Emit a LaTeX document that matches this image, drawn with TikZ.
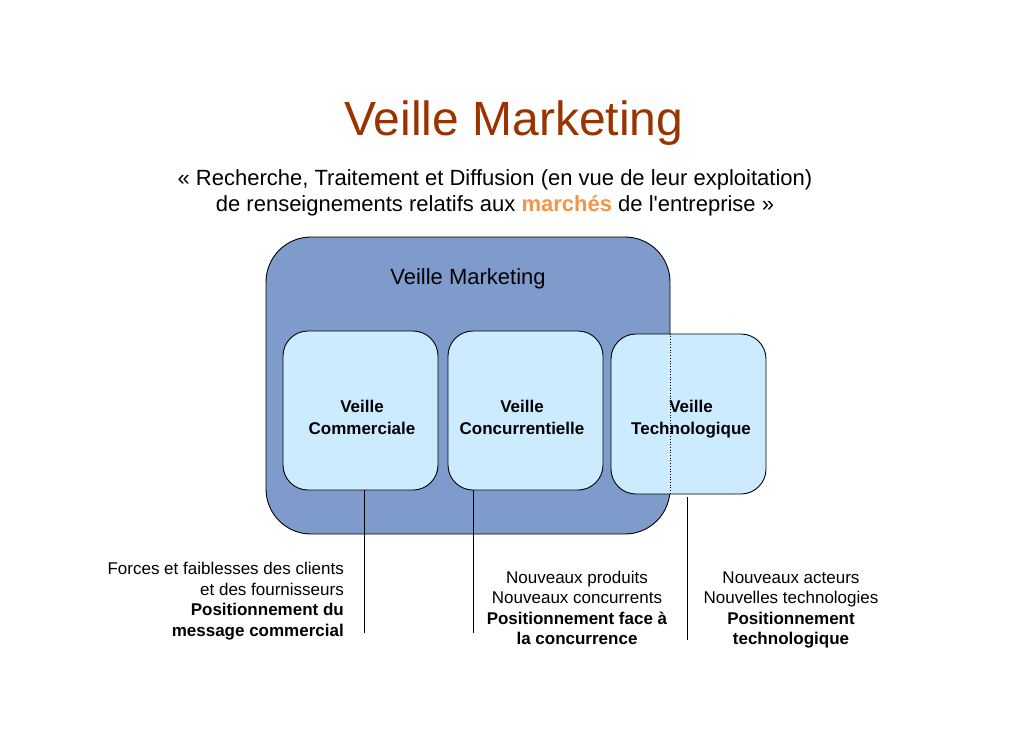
\documentclass[tikz,border=0pt]{standalone}
\usepackage{fontspec}
\setmainfont{Liberation Sans}
\definecolor{titlebrown}{RGB}{153,51,0}
\definecolor{accentorange}{RGB}{240,150,70}
\definecolor{bigblue}{RGB}{127,155,203}
\definecolor{lightblue}{RGB}{204,235,255}
\tikzset{
  bigbox/.style={draw=black, line width=0.9pt, fill=bigblue, rounded corners=45pt, minimum width=404pt, minimum height=297pt, inner sep=0pt},
  subbox/.style={draw=black, line width=0.9pt, fill=lightblue, rounded corners=25pt, minimum width=155pt, minimum height=159pt, inner sep=0pt},
  boxtext/.style={align=center, font=\fontsize{17}{22}\selectfont\bfseries, inner sep=0pt},
  link/.style={draw=black, line width=0.8pt},
  note/.style={font=\fontsize{17}{20.5}\selectfont, inner sep=0pt}
}
\begin{document}
\begin{tikzpicture}[x=1pt,y=-1pt]
\useasboundingbox (0,0) rectangle (1030,728);
\node[text=titlebrown, font=\fontsize{48}{52}\selectfont] (title) at (514,123) {Veille Marketing};
\node[align=center, font=\fontsize{22}{26}\selectfont, inner sep=0pt] (sub) at (495,193)
  {« Recherche, Traitement et Diffusion (en vue de leur exploitation)\\
   de renseignements relatifs aux \textcolor{accentorange}{\bfseries marchés} de l\textquotesingle entreprise »};
\node[bigbox] (big) at (468,385.5) {};
\node[font=\fontsize{22}{24}\selectfont, inner sep=0pt] (bigl) at (468,279) {Veille Marketing};
\node[subbox] (c1) at (360.5,410.5) {};
\node[subbox] (c2) at (525.5,410.5) {};
\node[subbox, minimum height=160pt] (c3) at (688.5,414) {};
\node[boxtext] (c1t) at (362,417.5) {Veille\\Commerciale};
\node[boxtext] (c2t) at (522,417.5) {Veille\\Concurrentielle};
\node[boxtext] (c3t) at (691,419.5) {Veille\\Technologique};
\draw[dotted, line width=0.7pt] (big.east |- c3.north) -- (big.east |- c3.south);
\coordinate (e1) at (364,633);
\coordinate (e2) at (473,633);
\coordinate (e3) at (687,640);
\draw[link] (c1.south -| e1) -- (e1);
\draw[link] (c2.south -| e2) -- (e2);
\draw[link] ([yshift=-3pt]c3.south -| e3) -- (e3);
\node[note, align=right, anchor=east] (n1) at (344,601)
  {Forces et faiblesses des clients\\et des fournisseurs\\\textbf{Positionnement du}\\\textbf{message commercial}};
\node[note, align=center] (n2) at (577,608)
  {Nouveaux produits\\Nouveaux concurrents\\\textbf{Positionnement face à}\\\textbf{la concurrence}};
\node[note, align=center] (n3) at (791,610)
  {Nouveaux acteurs\\Nouvelles technologies\\\textbf{Positionnement}\\\textbf{technologique}};
\end{tikzpicture}
\end{document}
